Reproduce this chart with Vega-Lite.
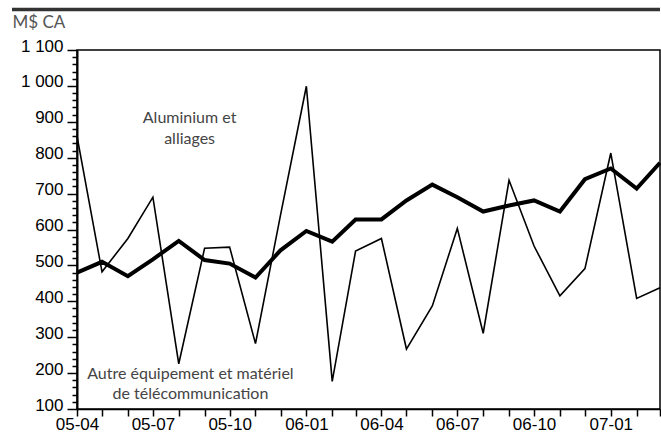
{
  "$schema": "https://vega.github.io/schema/vega-lite/v6.json",
  "autosize": {"type": "none"},
  "padding": {"left": 77, "top": 50, "right": 1, "bottom": 24},
  "width": 583,
  "height": 359,
  "background": "white",
  "config": {"font": "Liberation Sans"},
  "view": {"stroke": "black", "strokeWidth": 1.5},
  "data": {
    "values": [
      {"mois": "2005-04-01", "serie": "Aluminium et alliages", "valeur": 480},
      {"mois": "2005-05-01", "serie": "Aluminium et alliages", "valeur": 510},
      {"mois": "2005-06-01", "serie": "Aluminium et alliages", "valeur": 470},
      {"mois": "2005-07-01", "serie": "Aluminium et alliages", "valeur": 517},
      {"mois": "2005-08-01", "serie": "Aluminium et alliages", "valeur": 568},
      {"mois": "2005-09-01", "serie": "Aluminium et alliages", "valeur": 515},
      {"mois": "2005-10-01", "serie": "Aluminium et alliages", "valeur": 505},
      {"mois": "2005-11-01", "serie": "Aluminium et alliages", "valeur": 466},
      {"mois": "2005-12-01", "serie": "Aluminium et alliages", "valeur": 542},
      {"mois": "2006-01-01", "serie": "Aluminium et alliages", "valeur": 596},
      {"mois": "2006-02-01", "serie": "Aluminium et alliages", "valeur": 566},
      {"mois": "2006-03-01", "serie": "Aluminium et alliages", "valeur": 628},
      {"mois": "2006-04-01", "serie": "Aluminium et alliages", "valeur": 628},
      {"mois": "2006-05-01", "serie": "Aluminium et alliages", "valeur": 681},
      {"mois": "2006-06-01", "serie": "Aluminium et alliages", "valeur": 725},
      {"mois": "2006-07-01", "serie": "Aluminium et alliages", "valeur": 690},
      {"mois": "2006-08-01", "serie": "Aluminium et alliages", "valeur": 650},
      {"mois": "2006-09-01", "serie": "Aluminium et alliages", "valeur": 667},
      {"mois": "2006-10-01", "serie": "Aluminium et alliages", "valeur": 681},
      {"mois": "2006-11-01", "serie": "Aluminium et alliages", "valeur": 650},
      {"mois": "2006-12-01", "serie": "Aluminium et alliages", "valeur": 740},
      {"mois": "2007-01-01", "serie": "Aluminium et alliages", "valeur": 770},
      {"mois": "2007-02-01", "serie": "Aluminium et alliages", "valeur": 714},
      {"mois": "2007-03-01", "serie": "Aluminium et alliages", "valeur": 786},
      {"mois": "2005-04-01", "serie": "Autre équipement et matériel de télécommunication", "valeur": 860},
      {"mois": "2005-05-01", "serie": "Autre équipement et matériel de télécommunication", "valeur": 482},
      {"mois": "2005-06-01", "serie": "Autre équipement et matériel de télécommunication", "valeur": 575},
      {"mois": "2005-07-01", "serie": "Autre équipement et matériel de télécommunication", "valeur": 690},
      {"mois": "2005-08-01", "serie": "Autre équipement et matériel de télécommunication", "valeur": 226},
      {"mois": "2005-09-01", "serie": "Autre équipement et matériel de télécommunication", "valeur": 548},
      {"mois": "2005-10-01", "serie": "Autre équipement et matériel de télécommunication", "valeur": 551},
      {"mois": "2005-11-01", "serie": "Autre équipement et matériel de télécommunication", "valeur": 282},
      {"mois": "2005-12-01", "serie": "Autre équipement et matériel de télécommunication", "valeur": 640},
      {"mois": "2006-01-01", "serie": "Autre équipement et matériel de télécommunication", "valeur": 999},
      {"mois": "2006-02-01", "serie": "Autre équipement et matériel de télécommunication", "valeur": 177},
      {"mois": "2006-03-01", "serie": "Autre équipement et matériel de télécommunication", "valeur": 540},
      {"mois": "2006-04-01", "serie": "Autre équipement et matériel de télécommunication", "valeur": 575},
      {"mois": "2006-05-01", "serie": "Autre équipement et matériel de télécommunication", "valeur": 267},
      {"mois": "2006-06-01", "serie": "Autre équipement et matériel de télécommunication", "valeur": 387},
      {"mois": "2006-07-01", "serie": "Autre équipement et matériel de télécommunication", "valeur": 603},
      {"mois": "2006-08-01", "serie": "Autre équipement et matériel de télécommunication", "valeur": 311},
      {"mois": "2006-09-01", "serie": "Autre équipement et matériel de télécommunication", "valeur": 737},
      {"mois": "2006-10-01", "serie": "Autre équipement et matériel de télécommunication", "valeur": 554},
      {"mois": "2006-11-01", "serie": "Autre équipement et matériel de télécommunication", "valeur": 415},
      {"mois": "2006-12-01", "serie": "Autre équipement et matériel de télécommunication", "valeur": 491},
      {"mois": "2007-01-01", "serie": "Autre équipement et matériel de télécommunication", "valeur": 813},
      {"mois": "2007-02-01", "serie": "Autre équipement et matériel de télécommunication", "valeur": 408},
      {"mois": "2007-03-01", "serie": "Autre équipement et matériel de télécommunication", "valeur": 438}
    ]
  },
  "encoding": {
    "x": {
      "field": "mois",
      "type": "temporal",
      "scale": {"type": "utc", "nice": false, "domain": [1112313600000, 1172707200000]},
      "axis": {
        "title": null,
        "grid": false,
        "tickCount": {"interval": "month", "step": 1},
        "labelExpr": "utcmonth(datum.value) % 3 === 0 ? utcFormat(datum.value, '%y-%m') : ''",
        "labelFont": "Liberation Sans",
        "labelFontSize": 17,
        "labelColor": "black",
        "labelPadding": 0,
        "labelFlush": false,
        "labelOverlap": false,
        "domainColor": "black",
        "domainWidth": 1.5,
        "tickColor": "black",
        "tickWidth": 1.5,
        "tickSize": 7
      }
    },
    "y": {
      "field": "valeur",
      "type": "quantitative",
      "scale": {"domain": [100, 1100], "nice": false, "zero": false},
      "axis": {
        "grid": false,
        "values": [100,120,140,160,180,200,220,240,260,280,300,320,340,360,380,400,420,440,460,480,500,520,540,560,580,600,620,640,660,680,700,720,740,760,780,800,820,840,860,880,900,920,940,960,980,1000,1020,1040,1060,1080,1100],
        "labelExpr": "datum.value % 100 === 0 ? replace(format(datum.value, ','), ',', ' ') : ''",
        "labelFont": "Liberation Sans",
        "labelFontSize": 17,
        "labelColor": "black",
        "labelPadding": 4,
        "labelBaseline": "alphabetic",
        "labelOffset": 1,
        "labelOverlap": false,
        "labelFlush": false,
        "tickSize": {"condition": {"test": "datum.value % 100 === 0", "value": 10}, "value": 5},
        "tickColor": "black",
        "tickWidth": 1.5,
        "domainColor": "black",
        "domainWidth": 2,
        "title": "M$ CA",
        "titleAngle": 0,
        "titleAlign": "left",
        "titleBaseline": "top",
        "titleX": -65,
        "titleY": -36,
        "titleFont": "Lato",
        "titleFontWeight": "normal",
        "titleFontSize": 17,
        "titleColor": "#555555"
      }
    }
  },
  "layer": [
    {
      "transform": [{"filter": "datum.serie === 'Aluminium et alliages' && datum.valeur === 480"}],
      "mark": {"type": "rule", "color": "#333333", "strokeWidth": 3.5, "clip": false},
      "encoding": {
        "x": {"datum": 1105580000000, "type": "temporal"},
        "x2": {"datum": 1172707200000},
        "y": {"datum": 1213, "type": "quantitative"}
      }
    },
    {
      "transform": [{"filter": "datum.serie === 'Autre équipement et matériel de télécommunication'"}],
      "mark": {"type": "line", "color": "black", "strokeWidth": 1.6, "strokeJoin": "miter"}
    },
    {
      "transform": [{"filter": "datum.serie === 'Aluminium et alliages'"}],
      "mark": {"type": "line", "color": "black", "strokeWidth": 4, "strokeJoin": "miter"}
    },
    {
      "transform": [{"filter": "datum.serie === 'Aluminium et alliages' && datum.valeur === 480"}],
      "mark": {"type": "text", "font": "Lato", "fontSize": 16, "color": "#444444", "lineHeight": 21, "align": "center", "baseline": "middle", "lineBreak": "|"},
      "encoding": {
        "x": {"datum": 1123977600000, "type": "temporal"},
        "y": {"datum": 910, "type": "quantitative"},
        "text": {"value": "Aluminium et|alliages"}
      }
    },
    {
      "transform": [{"filter": "datum.serie === 'Aluminium et alliages' && datum.valeur === 480"}],
      "mark": {"type": "text", "font": "Lato", "fontSize": 16, "color": "#444444", "lineHeight": 20, "align": "center", "baseline": "middle", "lineBreak": "|"},
      "encoding": {
        "x": {"datum": 1124064000000, "type": "temporal"},
        "y": {"datum": 197, "type": "quantitative"},
        "text": {"value": "Autre équipement et matériel|de télécommunication"}
      }
    }
  ]
}
